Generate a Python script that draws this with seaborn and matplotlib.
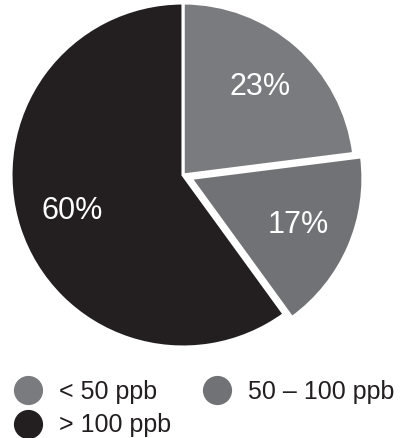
import matplotlib
matplotlib.use("Agg")
import matplotlib.pyplot as plt
from matplotlib.lines import Line2D
import seaborn as sns

# data
categories = ["< 50 ppb", "50 – 100 ppb", "> 100 ppb"]
shares = [23, 17, 60]
explode = [0, 0.05, 0]
colors = ["#7a7b7e", "#717275", "#231f20"]

sns.set_style("white")
plt.rcParams["font.family"] = ["Liberation Sans", "DejaVu Sans"]

fig = plt.figure(figsize=(4.0, 4.38), dpi=100)

# pie centred at (183, 175) px from top-left, radius ~172 px
lim = 1.1
r_px = 172 * lim
cx, cy = 183, 438 - 175
ax = fig.add_axes([(cx - r_px) / 400, (cy - r_px) / 438, 2 * r_px / 400, 2 * r_px / 438])

wedges, texts, autotexts = ax.pie(
    shares,
    colors=colors,
    explode=explode,
    startangle=90,
    counterclock=False,
    autopct="%d%%",
    pctdistance=0.68,
    wedgeprops=dict(edgecolor="white", linewidth=2.2),
    textprops=dict(color="white", fontsize=22),
)
ax.set_xlim(-lim, lim)
ax.set_ylim(-lim, lim)
ax.set_aspect("auto")

# legend laid out row-wise: <50, 50-100 on top, >100 below
handles = [
    Line2D([], [], marker="o", linestyle="", markersize=20,
           markerfacecolor=c, markeredgecolor=c)
    for c in colors
]
order = [0, 2, 1]
fig.legend(
    [handles[i] for i in order],
    [categories[i] for i in order],
    ncol=2,
    loc="upper left",
    bbox_to_anchor=(0.008, 0.161),
    frameon=False,
    fontsize=18,
    handlelength=1.0,
    handletextpad=0.75,
    columnspacing=1.3,
    labelspacing=0.38,
    borderpad=0.0,
    labelcolor="#231f20",
)

fig.savefig("out.png", dpi=100)
